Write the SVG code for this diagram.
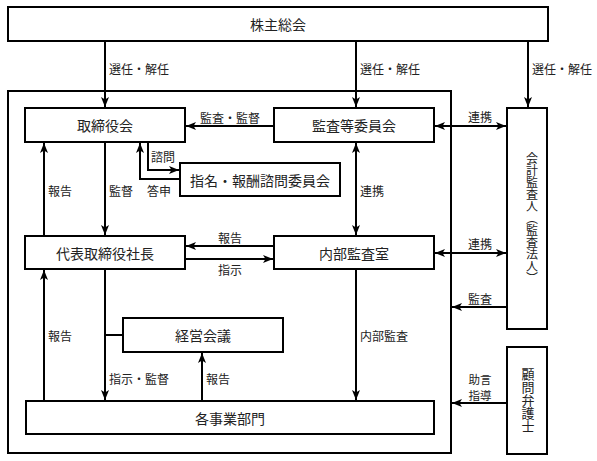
<svg xmlns="http://www.w3.org/2000/svg" width="597" height="461" viewBox="0 0 597 461">
<style>
.box{fill:#fff;stroke:#000;stroke-width:2}
.outer{fill:none;stroke:#000;stroke-width:2}
.t{font-family:"Noto Sans CJK JP","Noto Sans CJK SC",sans-serif;font-size:14px;fill:#222;text-anchor:middle;dominant-baseline:central}
.v{font-family:"Noto Sans CJK JP","Noto Sans CJK SC",sans-serif;font-size:12px;fill:#222;text-anchor:middle;writing-mode:vertical-rl}
.l{font-family:"Noto Sans CJK JP","Noto Sans CJK SC",sans-serif;font-size:12px;fill:#222;dominant-baseline:central}
.lc{text-anchor:middle}
.c{fill:none;stroke:#000;stroke-width:2}
.a{marker-end:url(#ah)}
.b{marker-start:url(#ahs);marker-end:url(#ah)}
</style>
<defs>
<marker id="ah" markerUnits="userSpaceOnUse" markerWidth="10" markerHeight="10" viewBox="0 0 10 10" refX="10" refY="5" orient="auto">
<path d="M0,1 L10,5 L0,9 L2.5,5 z" fill="#000"/>
</marker>
<marker id="ahs" markerUnits="userSpaceOnUse" markerWidth="10" markerHeight="10" viewBox="0 0 10 10" refX="0" refY="5" orient="auto">
<path d="M10,1 L0,5 L10,9 L7.5,5 z" fill="#000"/>
</marker>
</defs>

<rect class="outer" x="8" y="91" width="443" height="362"/>

<g id="connectors">
<path class="c a" d="M105,41 V107"/>
<path class="c a" d="M356,41 V107"/>
<path class="c a" d="M528,41 V107"/>
<path class="c a" d="M274,126 H186"/>
<path class="c b" d="M435,126 H506"/>
<path class="c a" d="M148,143 V170 H179"/>
<path class="c a" d="M180,179 H140 V143"/>
<path class="c a" d="M44,235 V143"/>
<path class="c a" d="M105,143 V235"/>
<path class="c b" d="M356,143 V235"/>
<path class="c a" d="M274,246 H186"/>
<path class="c a" d="M185,259 H273"/>
<path class="c b" d="M435,253 H506"/>
<path class="c a" d="M507,307 H452"/>
<path class="c a" d="M507,403 H452"/>
<path class="c a" d="M356,270 V400"/>
<path class="c a" d="M105,270 V400"/>
<path class="c" d="M105,335 H123"/>
<path class="c a" d="M202,401 V353"/>
<path class="c a" d="M44,401 V270"/>

<text class="l" x="109" y="68">選任・解任</text>
<text class="l" x="360" y="68">選任・解任</text>
<text class="l" x="532" y="68">選任・解任</text>
<text class="l lc" x="230" y="117">監査・監督</text>
<text class="l lc" x="480" y="116">連携</text>
<text class="l" x="151" y="156">諮問</text>
<text class="l" x="147" y="190">答申</text>
<text class="l" x="48" y="190">報告</text>
<text class="l" x="109" y="190">監督</text>
<text class="l" x="360" y="190">連携</text>
<text class="l lc" x="230" y="237">報告</text>
<text class="l lc" x="230" y="269">指示</text>
<text class="l lc" x="480" y="243">連携</text>
<text class="l lc" x="480" y="298">監査</text>
<text class="l lc" x="480" y="379" style="font-size:11.5px">助言</text>
<text class="l lc" x="480" y="395" style="font-size:11.5px">指導</text>
<text class="l" x="360" y="335">内部監査</text>
<text class="l" x="48" y="335">報告</text>
<text class="l" x="109" y="378">指示・監督</text>
<text class="l" x="206" y="378">報告</text>
</g>

<g id="shareholders">
<rect class="box" x="8" y="7" width="540" height="34"/>
<text class="t" x="278" y="24">株主総会</text>
</g>
<g id="board">
<rect class="box" x="25" y="108" width="160" height="34"/>
<text class="t" x="105" y="125">取締役会</text>
</g>
<g id="audit-committee">
<rect class="box" x="274" y="108" width="160" height="34"/>
<text class="t" x="354" y="125">監査等委員会</text>
</g>
<g id="nomination">
<rect class="box" x="180" y="163" width="160" height="33"/>
<text class="t" x="260" y="179.5">指名・報酬諮問委員会</text>
</g>
<g id="president">
<rect class="box" x="25" y="236" width="160" height="33"/>
<text class="t" x="105" y="252.5">代表取締役社長</text>
</g>
<g id="internal-audit">
<rect class="box" x="274" y="236" width="160" height="33"/>
<text class="t" x="354" y="252.5">内部監査室</text>
</g>
<g id="management">
<rect class="box" x="123" y="318" width="160" height="34"/>
<text class="t" x="203" y="335">経営会議</text>
</g>
<g id="divisions">
<rect class="box" x="26" y="401" width="408" height="33"/>
<text class="t" x="230" y="417.5">各事業部門</text>
</g>
<g id="auditor">
<rect class="box" x="507" y="108" width="40" height="221"/>
<text class="v" x="532" y="218">会計監査人（監査法人）</text>
</g>
<g id="lawyer">
<rect class="box" x="507" y="347" width="40" height="107"/>
<text class="v" x="528" y="400" style="font-size:13px">顧問弁護士</text>
</g>
</svg>
